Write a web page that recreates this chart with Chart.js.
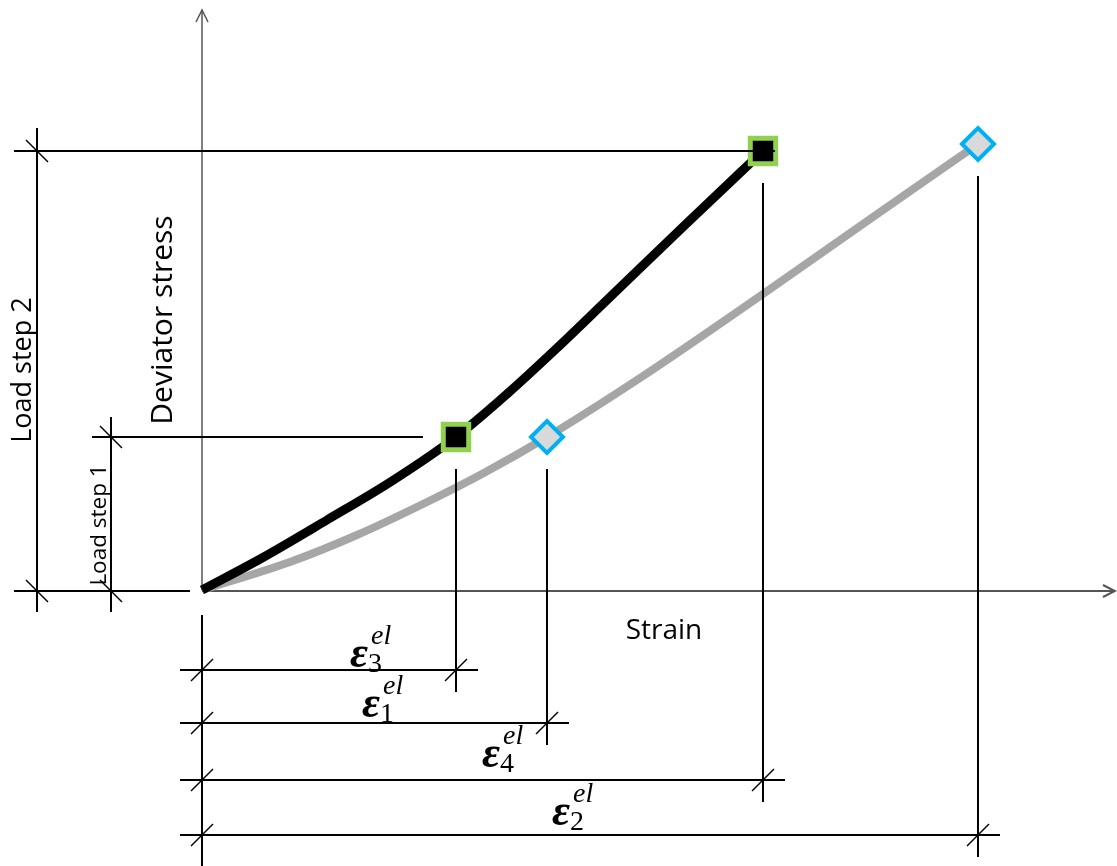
<!DOCTYPE html>
<html>
<head>
<meta charset="utf-8">
<script src="https://cdn.jsdelivr.net/npm/chart.js@4.4.1/dist/chart.umd.min.js"></script>
<style>
  html, body { margin: 0; padding: 0; background: #fff; }
  #wrap { width: 1117px; height: 866px; }
</style>
</head>
<body>
<div id="wrap"><canvas id="myChart"></canvas></div>
<script>
// strain (x) and deviator stress (y), schematic units
const strainFirst = [0, 6, 12.5, 19, 25.4, 30.5, 35.5, 40.5, 48.3, 56.1];
const stressFirst = [0, 3.2, 7.0, 10.9, 15.3, 19.6, 24.2, 29.0, 36.5, 43.9];
const strainSecond = [0, 8.8, 15.5, 22.1, 28, 34.5, 43.8, 56.1, 67.1, 77.6];
const stressSecond = [0, 2.8, 5.5, 8.6, 11.6, 15.3, 21.2, 29.6, 37.3, 44.6];

// load step 1 and 2 on each curve
const stepStrainFirst = [25.4, 56.1];
const stepStressFirst = [15.3, 43.9];
const stepStrainSecond = [34.5, 77.6];
const stepStressSecond = [15.3, 44.6];

// elastic strain dimensions, top to bottom
const epsIndex = ['3', '1', '4', '2'];
const epsStrain = [stepStrainFirst[0], stepStrainSecond[0], stepStrainFirst[1], stepStrainSecond[1]];

const toPoints = (xs, ys) => xs.map((x, i) => ({ x: x, y: ys[i] }));

const line = (ctx, x1, y1, x2, y2) => {
    ctx.beginPath();
    ctx.moveTo(x1, y1);
    ctx.lineTo(x2, y2);
    ctx.stroke();
};

const slash = (ctx, x, y, dir) => {
    ctx.save();
    ctx.lineWidth = 1.5;
    line(ctx, x - 11, y + 11 * dir, x + 11, y - 11 * dir);
    ctx.restore();
};

const sketch = {
    id: 'sketch',
    beforeDatasetsDraw(chart) {
        const ctx = chart.ctx;
        const sx = chart.scales.x, sy = chart.scales.y;
        const ox = sx.getPixelForValue(0), oy = sy.getPixelForValue(0);
        const area = chart.chartArea;
        ctx.save();
        ctx.strokeStyle = '#555';
        ctx.lineWidth = 1.5;
        // stress axis with arrow
        line(ctx, ox, oy, ox, area.top + 10);
        ctx.beginPath();
        ctx.moveTo(ox - 6, area.top + 22);
        ctx.lineTo(ox, area.top + 10);
        ctx.lineTo(ox + 6, area.top + 22);
        ctx.stroke();
        // strain axis with arrow
        ctx.lineWidth = 2;
        line(ctx, ox, oy + 1, area.right - 2, oy + 1);
        ctx.beginPath();
        ctx.moveTo(area.right - 14, oy - 5);
        ctx.lineTo(area.right - 2, oy + 1);
        ctx.lineTo(area.right - 14, oy + 7);
        ctx.stroke();
        ctx.restore();
    },
    afterDatasetsDraw(chart) {
        const ctx = chart.ctx;
        const sx = chart.scales.x, sy = chart.scales.y;
        const px = v => sx.getPixelForValue(v);
        const py = v => sy.getPixelForValue(v);
        const ox = px(0), oy = py(0);
        ctx.save();
        ctx.strokeStyle = '#000';
        ctx.fillStyle = '#000';
        ctx.lineWidth = 2;

        // stress dimensions on the left
        const s1 = py(stepStressFirst[0]), s2 = py(stepStressFirst[1]);
        const d2 = 37, d1 = 111;
        line(ctx, 14, s2, px(stepStrainFirst[1]) + 12, s2);
        line(ctx, d1 - 19, s1, px(stepStrainFirst[0]) - 33, s1);
        line(ctx, 14, oy + 1, ox - 12, oy + 1);
        line(ctx, d2, s2 - 23, d2, oy + 22);
        line(ctx, d1, s1 - 20, d1, oy + 22);
        slash(ctx, d2, s2, -1);
        slash(ctx, d2, oy + 1, -1);
        slash(ctx, d1, s1, -1);
        slash(ctx, d1, oy + 1, -1);

        // strain dimensions below the axis
        const rows = [670, 723, 780, 835];
        const tops = [py(stepStressFirst[0]), py(stepStressSecond[0]), py(stepStressFirst[1]), py(stepStressSecond[1])];
        line(ctx, ox, oy + 25, ox, chart.height);
        epsStrain.forEach((e, i) => {
            const xe = px(e);
            line(ctx, ox - 22, rows[i], xe + 22, rows[i]);
            line(ctx, xe, tops[i] + 32, xe, rows[i] + 22);
            slash(ctx, ox, rows[i], 1);
            slash(ctx, xe, rows[i], 1);
        });

        // elastic strain labels
        const labelPos = [[350, 667], [362, 717], [482, 767], [552, 825]];
        epsIndex.forEach((n, i) => {
            const [lx, ly] = labelPos[i];
            ctx.textAlign = 'left';
            ctx.textBaseline = 'alphabetic';
            ctx.font = 'italic bold 44px "Liberation Serif"';
            ctx.fillText('\u03b5', lx, ly);
            ctx.font = 'italic 28px "Liberation Serif"';
            ctx.fillText('el', lx + 21, ly - 23);
            ctx.font = '28px "Liberation Serif"';
            ctx.fillText(n, lx + 18, ly + 5);
        });

        // axis and step titles
        ctx.font = '28px "Open Sans"';
        ctx.textAlign = 'center';
        ctx.textBaseline = 'middle';
        ctx.fillText('Strain', 664, 631);
        const vertical = (text, x, y) => {
            ctx.save();
            ctx.translate(x, y);
            ctx.rotate(-Math.PI / 2);
            ctx.fillText(text, 0, 0);
            ctx.restore();
        };
        ctx.font = '30px "Open Sans"';
        vertical('Deviator stress', 163, 320);
        ctx.font = '27px "Open Sans"';
        vertical('Load step 2', 23, 370);
        ctx.font = '22.5px "Open Sans"';
        vertical('Load step 1', 100, 525);
        ctx.restore();
    }
};

const renderChart = () => {
    const ctx = document.getElementById('myChart').getContext('2d');
    new Chart(ctx, {
        type: 'scatter',
        data: {
            datasets: [
                {
                    data: toPoints(stepStrainFirst, stepStressFirst),
                    pointStyle: 'rect',
                    pointRadius: 18,
                    pointBorderWidth: 5,
                    pointBorderColor: '#92d050',
                    pointBackgroundColor: '#000',
                    order: 0
                },
                {
                    data: toPoints(stepStrainSecond, stepStressSecond),
                    pointStyle: 'rectRot',
                    pointRadius: 16,
                    pointBorderWidth: 4,
                    pointBorderColor: '#00b0f0',
                    pointBackgroundColor: '#d9d9d9',
                    order: 0
                },
                {
                    data: toPoints(strainFirst, stressFirst),
                    showLine: true,
                    borderColor: '#000',
                    borderWidth: 9,
                    cubicInterpolationMode: 'monotone',
                    pointRadius: 0,
                    order: 1
                },
                {
                    data: toPoints(strainSecond, stressSecond),
                    showLine: true,
                    borderColor: '#a6a6a6',
                    borderWidth: 8,
                    cubicInterpolationMode: 'monotone',
                    pointRadius: 0,
                    order: 2
                }
            ]
        },
        options: {
            responsive: true,
            maintainAspectRatio: false,
            animation: false,
            events: [],
            layout: { padding: 0, autoPadding: false },
            plugins: { legend: { display: false }, tooltip: { enabled: false } },
            scales: {
                x: { type: 'linear', display: false, min: -20.2, max: 91.5 },
                y: { type: 'linear', display: false, min: -27.6, max: 59.0 }
            }
        },
        plugins: [sketch]
    });
};

document.addEventListener('DOMContentLoaded', renderChart);
</script>
</body>
</html>
